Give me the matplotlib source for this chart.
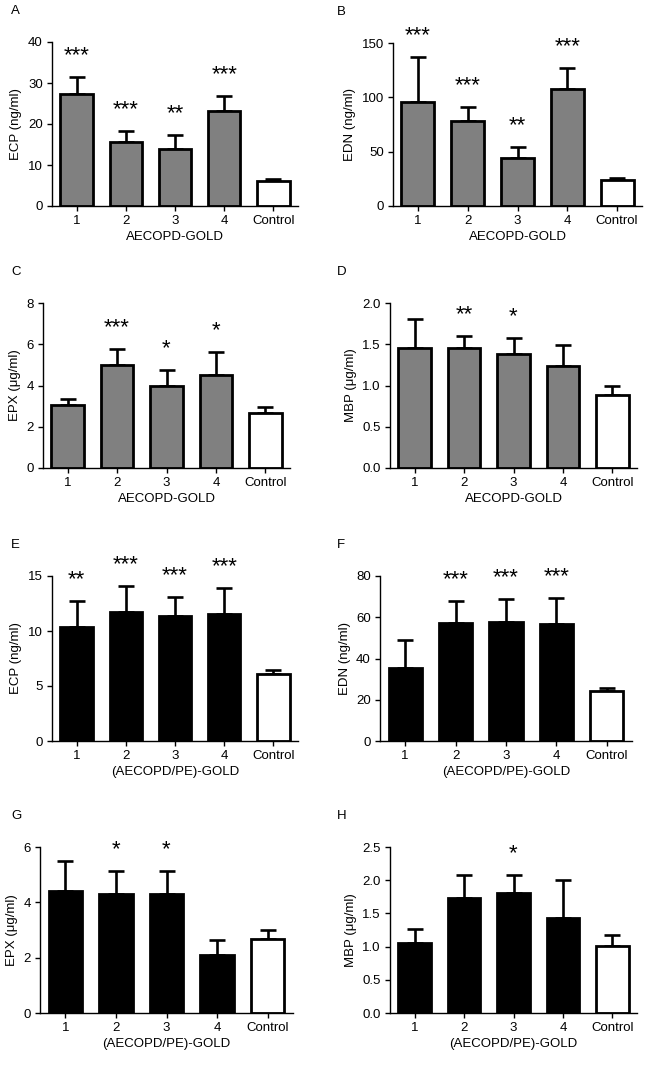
import matplotlib
matplotlib.use('Agg')
import matplotlib.pyplot as plt
import numpy as np

plt.rcParams['font.family'] = ['Liberation Sans', 'DejaVu Sans']

groups = ['1', '2', '3', '4', 'Control']

# Panel values: bar means and upper error bar ends
ecp_a = [27.2, 15.6, 13.9, 23.1, 6.2]
ecp_a_err = [31.4, 18.2, 17.2, 26.9, 6.6]
ecp_a_sig = ['***', '***', '**', '***', '']

edn_b = [95.8, 78.0, 44.4, 108.0, 23.9]
edn_b_err = [136.8, 90.9, 54.2, 127.0, 25.4]
edn_b_sig = ['***', '***', '**', '***', '']

epx_c = [3.07, 4.99, 3.99, 4.51, 2.67]
epx_c_err = [3.34, 5.75, 4.75, 5.62, 2.96]
epx_c_sig = ['', '***', '*', '*', '']

mbp_d = [1.45, 1.46, 1.38, 1.24, 0.89]
mbp_d_err = [1.81, 1.60, 1.58, 1.49, 1.00]
mbp_d_sig = ['', '**', '*', '', '']

ecp_e = [10.39, 11.69, 11.36, 11.54, 6.07]
ecp_e_err = [12.72, 14.12, 13.09, 13.94, 6.44]
ecp_e_sig = ['**', '***', '***', '***', '']

edn_f = [35.5, 57.0, 57.8, 56.8, 24.1]
edn_f_err = [49.2, 67.7, 68.7, 69.5, 25.9]
edn_f_sig = ['', '***', '***', '***', '']

epx_g = [4.40, 4.31, 4.31, 2.09, 2.69]
epx_g_err = [5.49, 5.14, 5.14, 2.64, 2.99]
epx_g_sig = ['', '*', '*', '', '']

mbp_h = [1.05, 1.73, 1.81, 1.43, 1.01]
mbp_h_err = [1.27, 2.08, 2.08, 2.00, 1.18]
mbp_h_sig = ['', '', '*', '', '']

W, H = 660, 1071
fig = plt.figure(figsize=(W / 100, H / 100), dpi=100)

# (letter, means, err, sig, ylabel, xlabel, yticks, fill, box in px: left, right, top, bottom)
panels = [
    ('A', ecp_a, ecp_a_err, ecp_a_sig, 'ECP (ng/ml)', 'AECOPD-GOLD', [0, 10, 20, 30, 40], '#808080', (52, 298, 42, 206)),
    ('B', edn_b, edn_b_err, edn_b_sig, 'EDN (ng/ml)', 'AECOPD-GOLD', [0, 50, 100, 150], '#808080', (393, 642, 43, 206)),
    ('C', epx_c, epx_c_err, epx_c_sig, 'EPX (\u03bcg/ml)', 'AECOPD-GOLD', [0, 2, 4, 6, 8], '#808080', (43, 290, 303, 468)),
    ('D', mbp_d, mbp_d_err, mbp_d_sig, 'MBP (\u03bcg/ml)', 'AECOPD-GOLD', [0.0, 0.5, 1.0, 1.5, 2.0], '#808080', (390, 637, 303, 468)),
    ('E', ecp_e, ecp_e_err, ecp_e_sig, 'ECP (ng/ml)', '(AECOPD/PE)-GOLD', [0, 5, 10, 15], 'black', (52, 298, 576, 741)),
    ('F', edn_f, edn_f_err, edn_f_sig, 'EDN (ng/ml)', '(AECOPD/PE)-GOLD', [0, 20, 40, 60, 80], 'black', (380, 632, 576, 741)),
    ('G', epx_g, epx_g_err, epx_g_sig, 'EPX (\u03bcg/ml)', '(AECOPD/PE)-GOLD', [0, 2, 4, 6], 'black', (40, 293, 847, 1013)),
    ('H', mbp_h, mbp_h_err, mbp_h_sig, 'MBP (\u03bcg/ml)', '(AECOPD/PE)-GOLD', [0.0, 0.5, 1.0, 1.5, 2.0, 2.5], 'black', (390, 637, 847, 1013)),
]

fs = 9.5
for letter, means, err, sig, ylab, xlab, yticks, fill, box in panels:
    l, r, t, b = box
    ax = fig.add_axes([l / W, 1 - b / H, (r - l) / W, (b - t) / H])
    x = np.arange(len(groups))
    means = np.array(means)
    upper = np.array(err) - means
    colors = [fill] * 4 + ['white']
    ax.errorbar(x, means, yerr=[np.zeros_like(means), upper], fmt='none',
                ecolor='black', elinewidth=1.9, capsize=6, capthick=1.9, zorder=1)
    ax.bar(x, means, width=0.66, color=colors, edgecolor='black', linewidth=2.0, zorder=2)
    ymax = yticks[-1]
    for xi, e, s in zip(x, err, sig):
        if s:
            ax.text(xi, e + 0.13 * ymax, s, ha='center', va='center', fontsize=16)
    ax.set_xlim(-0.5, 4.5)
    ax.set_ylim(0, ymax)
    ax.set_yticks(yticks)
    if isinstance(yticks[1], float):
        ax.set_yticklabels(['%.1f' % v for v in yticks])
    ax.set_xticks(x)
    ax.set_xticklabels(groups)
    ax.spines['top'].set_visible(False)
    ax.spines['right'].set_visible(False)
    for sp in ('left', 'bottom'):
        ax.spines[sp].set_linewidth(1.0)
    ax.tick_params(axis='both', labelsize=fs, length=3.6, width=1.0, pad=3)
    ax.set_ylabel(ylab, fontsize=fs, labelpad=4)
    ax.set_xlabel(xlab, fontsize=fs, labelpad=3)
    lx = 11 if l < 330 else 337
    fig.text(lx / W, 1 - (t - 31) / H, letter, fontsize=fs, ha='left', va='center')

fig.savefig('out.png', dpi=100)
